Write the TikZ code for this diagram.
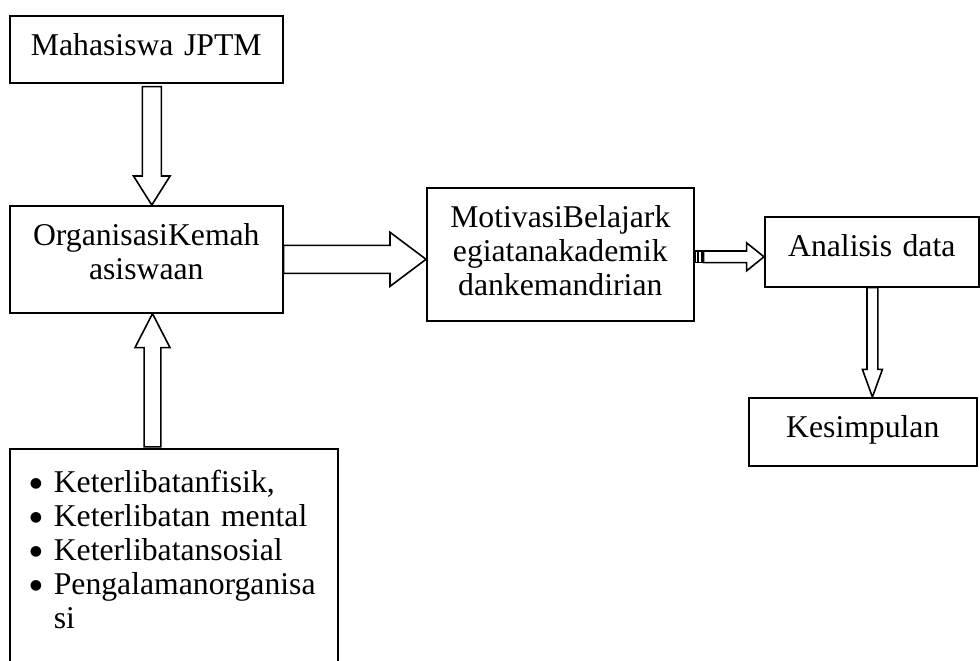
\documentclass[tikz,border=0pt]{standalone}
\usepackage{fontspec}
\setmainfont{Liberation Serif}
\newfontfamily\symfont{DejaVu Sans}
\usetikzlibrary{calc}

\newcommand{\bigbullet}{\makebox[22pt][l]{\hspace{10pt}\raisebox{2.5pt}{\symfont\fontsize{7pt}{7pt}\selectfont ●}}}

\tikzset{
  box/.style={draw, line width=0.8pt, inner sep=0pt, align=center, anchor=north west, text height=20pt},
  fat/.style args={#1/#2/#3}{draw, line width=0.8pt, fill=white, line join=miter,
    to path={($(\tikztotarget)!#3!(\tikztostart)$) coordinate (fh)
      ($(\tikztostart)!#1!90:(\tikztotarget)$) -- ($(fh)!#1!90:(\tikztotarget)$)
      -- ($(fh)!#2!90:(\tikztotarget)$) -- (\tikztotarget)
      -- ($(fh)!#2!-90:(\tikztotarget)$) -- ($(fh)!#1!-90:(\tikztotarget)$)
      -- ($(\tikztostart)!#1!-90:(\tikztotarget)$) -- cycle}},
  stripe/.style={draw, line width=0.6pt, fill=white}
}

\begin{document}
\begin{tikzpicture}[x=0.5pt, y=-0.5pt, every node/.style={font=\fontsize{15.85pt}{17pt}\selectfont}]
\useasboundingbox (0,0) rectangle (980,660);
\node[box, text width=136.5pt, text depth=13.5pt] (mhs) at (9,15) {Mahasiswa JPTM};
\node[box, text width=136.5pt, text depth=33.5pt] (org) at (9,205) {OrganisasiKemah\\asiswaan};
\node[box, text width=133.5pt, text depth=46.5pt] (mot) at (426,187) {MotivasiBelajark\\egiatanakademik\\dankemandirian};
\node[box, text width=107pt, text depth=15pt] (ana) at (764,216) {Analisis data};
\node[box, text width=114pt, text depth=14pt] (kes) at (748,397) {Kesimpulan};
\node[box, align=left, text width=164pt, text height=22pt, text depth=94pt] (bul) at (9,448) {%
\bigbullet Keterlibatanfisik,\\
\bigbullet Keterlibatan mental\\
\bigbullet Keterlibatansosial\\
\bigbullet Pengalamanorganisa\\
\hspace*{22pt}si};
\coordinate (a1s) at ([xshift=2.75pt,yshift=-1.5pt]mhs.south);
\coordinate (a1e) at ([xshift=2.75pt]org.north);
\draw[fat=4.75pt/9.15pt/14.5pt] (a1s) to (a1e);
\coordinate (a2s) at (org.east);
\coordinate (a2e) at (org.east -| mot.west);
\draw[fat=7pt/13.5pt/18pt] (a2s) to (a2e);
\coordinate (a3e) at ([yshift=-2.5pt]ana.west);
\coordinate (a3m) at (mot.east |- a3e);
\draw[stripe] ([xshift=0.3pt,yshift=2.9pt]a3m) rectangle ([xshift=1.3pt,yshift=-2.9pt]a3m);
\draw[stripe] ([xshift=2pt,yshift=2.9pt]a3m) rectangle ([xshift=3.7pt,yshift=-2.9pt]a3m);
\coordinate (a3s) at ([xshift=4.5pt]a3m);
\draw[fat=2.9pt/7pt/8.7pt] (a3s) to (a3e);
\coordinate (a4e) at ([xshift=3.1pt]org.south);
\coordinate (a4s) at ([yshift=0.6pt]a4e |- bul.north);
\draw[fat=4.2pt/8.75pt/17pt] (a4s) to (a4e);
\coordinate (a5s) at ([xshift=0.3pt]ana.south);
\coordinate (a5e) at (a5s |- kes.north);
\draw[fat=2.7pt/5pt/13.8pt] (a5s) to (a5e);
\end{tikzpicture}
\end{document}
